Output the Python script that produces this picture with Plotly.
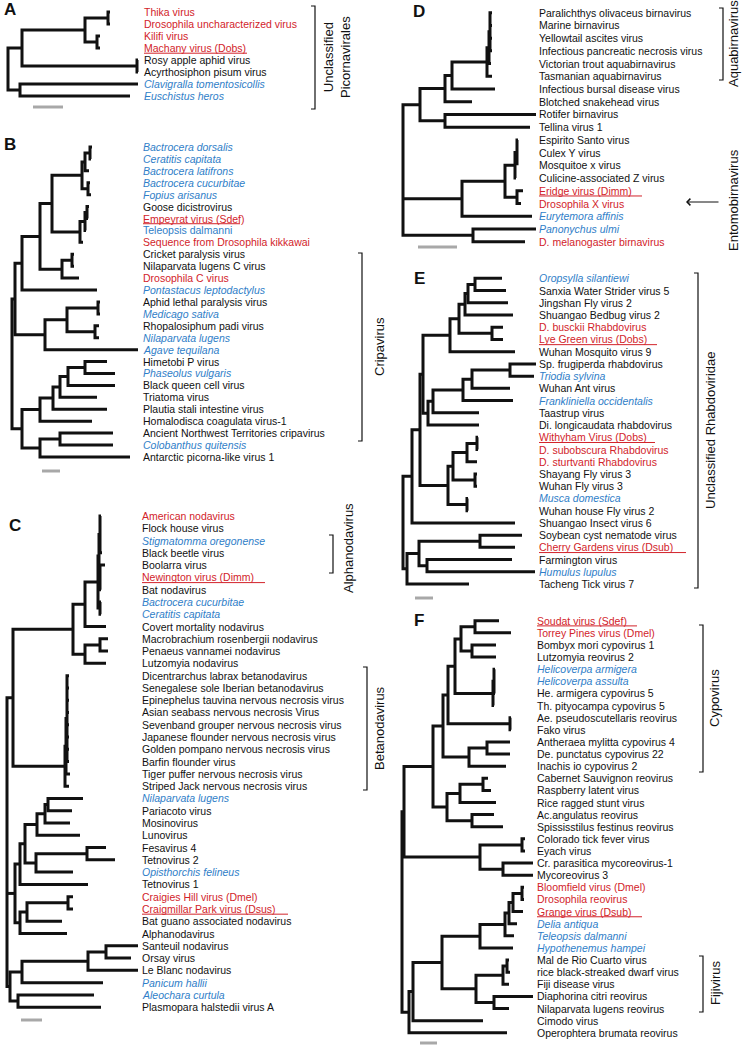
import plotly.graph_objects as go

W, H = 743, 1046
RED, BLUE, BLACK, GRAY = "#d2232a", "#2f7ec8", "#111111", "#a8a8a8"
FONT = "Arial, Liberation Sans, sans-serif"

# ---------------- DATA ----------------
# kinds: r = red, k = black, b = blue italic, B = blue upright, trailing 'u' = underlined
A_labels = ["Thika virus", "Drosophila uncharacterized virus", "Kilifi virus", "Machany virus (Dobs)",
            "Rosy apple aphid virus", "Acyrthosiphon pisum virus", "Clavigralla tomentosicollis", "Euschistus heros"]
A_kinds = ["r", "r", "r", "ru", "k", "k", "b", "b"]
# tree: internal node = [depth, child, ...]; leaf = (leaf index, tip depth)
A_tree = [0, [14, [77, [100, (0, 102), (1, 102)], [89, (2, 92), (3, 92)]], [129, (4, 130), (5, 130)]],
          [12, (6, 130), (7, 122)]]
A_scale = 30

B_labels = ["Bactrocera dorsalis", "Ceratitis capitata", "Bactrocera latifrons", "Bactrocera cucurbitae",
            "Fopius arisanus", "Goose dicistrovirus", "Empeyrat virus (Sdef)", "Teleopsis dalmanni",
            "Sequence from Drosophila kikkawai", "Cricket paralysis virus", "Nilaparvata lugens C virus",
            "Drosophila C virus", "Pontastacus leptodactylus", "Aphid lethal paralysis virus", "Medicago sativa",
            "Rhopalosiphum padi virus", "Nilaparvata lugens", "Agave tequilana", "Himetobi P virus",
            "Phaseolus vulgaris", "Black queen cell virus", "Triatoma virus", "Plautia stali intestine virus",
            "Homalodisca coagulata virus-1", "Ancient Northwest Territories cripavirus", "Colobanthus quitensis",
            "Antarctic picorna-like virus 1"]
B_kinds = ["b", "b", "b", "b", "b", "k", "ru", "B", "r", "k", "k", "r", "b", "k", "b", "k", "b", "b", "k",
           "b", "k", "k", "k", "k", "k", "b", "k"]
B_tree = [0,
          [3,
           [10,
            [28,
             [40,
              [70, [73, [78, (0, 80), (1, 79)], (2, 77)], [76, (3, 78), (4, 79)]],
              [68, [73, [75, (5, 77), (6, 76)], (7, 74)], (8, 71)]],
             [50, [60, (9, 62), (10, 62)], (11, 67)]],
            (12, 85)],
           [33, [55, [86, (13, 88), (14, 88)], [83, (15, 87), (16, 87)]], (17, 126)]],
          [10,
           [28, [41, [48, [56, [73, (18, 95), (19, 103)], (20, 103)], (21, 85)], (22, 95)], (23, 80)],
           [28, [48, (24, 101), (25, 101)], (26, 118)]]]
B_scale = 18

C_labels = ["American nodavirus", "Flock house virus", "Stigmatomma oregonense", "Black beetle virus",
            "Boolarra virus", "Newington virus (Dimm)", "Bat nodavirus", "Bactrocera cucurbitae",
            "Ceratitis capitata", "Covert mortality nodavirus", "Macrobrachium rosenbergii nodavirus",
            "Penaeus vannamei nodavirus", "Lutzomyia nodavirus", "Dicentrarchus labrax betanodavirus",
            "Senegalese sole Iberian betanodavirus", "Epinephelus tauvina nervous necrosis virus",
            "Asian seabass nervous necrosis Virus", "Sevenband grouper nervous necrosis virus",
            "Japanese flounder nervous necrosis virus", "Golden pompano nervous necrosis virus",
            "Barfin flounder virus", "Tiger puffer nervous necrosis virus", "Striped Jack nervous necrosis virus",
            "Nilaparvata lugens", "Pariacoto virus", "Mosinovirus", "Lunovirus", "Fesavirus 4", "Tetnovirus 2",
            "Opisthorchis felineus", "Tetnovirus 1", "Craigies Hill virus (Dmel)", "Craigmillar Park virus (Dsus)",
            "Bat guano associated nodavirus", "Alphanodavirus", "Santeuil nodavirus", "Orsay virus",
            "Le Blanc nodavirus", "Panicum hallii", "Aleochara curtula", "Plasmopara halstedii virus A"]
C_kinds = ["r", "k", "b", "k", "k", "ru", "k", "b", "b", "k", "k", "k", "k", "k", "k", "k", "k", "k", "k",
           "k", "k", "k", "k", "b", "k", "k", "k", "k", "k", "b", "k", "r", "ru", "k", "k", "k", "k", "k",
           "b", "b", "k"]
C_tree = [0,
          [6,
           [66,
            [78,
             [91,
              [92, [93, (0, 94), (1, 94), (2, 94), (3, 95)], [93, (4, 98), (5, 94), (6, 94)]],
              [93, (7, 94), (8, 94)]],
             (9, 99)],
            [78, [93, (10, 101), (11, 101)], (12, 99)]],
           [58, [59, [60, (13, 62), (14, 62), (15, 62), (16, 62), (17, 62), (18, 62), (19, 62), (20, 62)],
                 (21, 63)], (22, 62)]],
          [8,
           [13,
            [18,
             [30, [38, [41, (23, 76), (24, 65)], (25, 63)], (26, 73)],
             [29, [80, (27, 99), (28, 108)], (29, 66)]],
            (30, 81)],
           [13, [20, [61, (31, 66), (32, 66)], (33, 55)], (34, 60)]],
          [3,
           [15, [81, [99, (35, 131), (36, 124)], (37, 131)], (38, 96)],
           [11, (39, 87), (40, 94)]]]
C_scale = 21

D_labels = ["Paralichthys olivaceus birnavirus", "Marine birnavirus", "Yellowtail ascites virus",
            "Infectious pancreatic necrosis virus", "Victorian trout aquabirnavirus", "Tasmanian aquabirnavirus",
            "Infectious bursal disease virus", "Blotched snakehead virus", "Rotifer birnavirus", "Tellina virus 1",
            "Espirito Santo virus", "Culex Y virus", "Mosquitoe x virus", "Culicine-associated Z virus",
            "Eridge virus (Dimm)", "Drosophila X virus", "Eurytemora affinis", "Panonychus ulmi",
            "D. melanogaster birnavirus"]
D_kinds = ["k"] * 14 + ["ru", "r", "b", "b", "r"]
D_tree = [0,
          [17,
           [42, [49, [84, [86, [87, (0, 89), (1, 89), (2, 89), (3, 89)], (4, 88)], (5, 89)], (6, 92)], (7, 69)],
           [42, (8, 133), (9, 127)]],
          [59,
           [102, [112, [114, (10, 115), (11, 115), (12, 114)], (13, 113)], [114, (14, 120), (15, 118)]],
           (16, 129)],
          [70, (17, 133), (18, 122)]]
D_scale = 39

E_labels = ["Oropsylla silantiewi", "Sanxia Water Strider virus 5", "Jingshan Fly virus 2",
            "Shuangao Bedbug virus 2", "D. busckii Rhabdovirus", "Lye Green virus (Dobs)", "Wuhan Mosquito virus 9",
            "Sp. frugiperda rhabdovirus", "Triodia sylvina", "Wuhan Ant virus", "Frankliniella occidentalis",
            "Taastrup virus", "Di. longicaudata rhabdovirus", "Withyham Virus (Dobs)", "D. subobscura Rhabdovirus",
            "D. sturtvanti Rhabdovirus", "Shayang Fly virus 3", "Wuhan Fly virus 3", "Musca domestica",
            "Wuhan house Fly virus 2", "Shuangao Insect virus 6", "Soybean cyst nematode virus",
            "Cherry Gardens virus (Dsub)", "Farmington virus", "Humulus lupulus", "Tacheng Tick virus 7"]
E_kinds = ["b", "k", "k", "k", "r", "ru", "k", "k", "b", "k", "b", "k", "k", "ru", "r", "r", "k", "k", "b",
           "k", "k", "k", "ru", "k", "b", "k"]
E_tree = [0,
          [9,
           [17,
            [20,
             [47, [56, [62, [65, [72, (0, 99), (1, 103)], (2, 105)], (3, 110)], [89, (4, 100), (5, 100)]],
              (6, 112)],
             [25, [30, [60, [69, [107, (7, 133), (8, 131)], (9, 107)], (10, 110)], (11, 76)], (12, 76)]],
            [45, [50, [64, [74, (13, 75), (14, 75)], (15, 74)], [72, (16, 74), (17, 74)]],
             [64, (18, 65), (19, 65)]]],
           (20, 112)],
          [4, [16, [77, (21, 119), (22, 112)], [24, (23, 109), (24, 132)]], (25, 66)]]
E_scale = 18

F_labels = ["Soudat virus (Sdef)", "Torrey Pines virus (Dmel)", "Bombyx mori cypovirus 1", "Lutzomyia reovirus 2",
            "Helicoverpa armigera", "Helicoverpa assulta", "He. armigera cypovirus 5", "Th. pityocampa cypovirus 5",
            "Ae. pseudoscutellaris reovirus", "Fako virus", "Antheraea mylitta cypovirus 4",
            "De. punctatus cypovirus 22", "Inachis io cypovirus 2", "Cabernet Sauvignon reovirus",
            "Raspberry latent virus", "Rice ragged stunt virus", "Ac.angulatus reovirus",
            "Spississtilus festinus reovirus", "Colorado tick fever virus", "Eyach virus",
            "Cr. parasitica mycoreovirus-1", "Mycoreovirus 3", "Bloomfield virus (Dmel)", "Drosophila reovirus",
            "Grange virus (Dsub)", "Delia antiqua", "Teleopsis dalmanni", "Hypothenemus hampei",
            "Mal de Rio Cuarto virus", "rice black-streaked dwarf virus", "Fiji disease virus",
            "Diaphorina citri reovirus", "Nilaparvata lugens reovirus", "Cimodo virus", "Operophtera brumata reovirus"]
F_kinds = ["ru", "r", "k", "k", "b", "b"] + ["k"] * 16 + ["r", "r", "ru", "b", "b", "b"] + ["k"] * 7
F_tree = [0,
          [2,
           [31,
            [41,
             [46,
              [53, [59, [73, (0, 97), (1, 109)], [70, (2, 94), (3, 94)]],
               [91, [92, (4, 93), (5, 93), (6, 93)], (7, 92)]],
              [108, (8, 109), (9, 109)]],
             [67, [85, (10, 108), (11, 108)], (12, 104)]],
            [45, [58, [81, (13, 86), (14, 89)], (15, 94)], [70, (16, 92), (17, 101)]]],
           [78, [120, (18, 123), (19, 123)], [101, (20, 131), (21, 131)]]],
          [7,
           [11,
            [40,
             [78, [103, [107, [111, [120, (22, 122), (23, 122)], (24, 121)], (25, 115)], (26, 112)], (27, 111)],
             [74, [101, [105, (28, 107), (29, 108)], (30, 107)], [92, (31, 131), (32, 107)]]],
            (33, 81)],
           (34, 105)]]
F_scale = 17

# ---------------- LAYOUT (pixel placement) ----------------
PANELS = [
    dict(L="A", labels=A_labels, kinds=A_kinds, tree=A_tree, scale=A_scale,
         box=(0, 372, 0, 118), root=8, lab=144, y0=12, s=12.0, sb0=25, sby=107, letter=(2, 9)),
    dict(L="B", labels=B_labels, kinds=B_kinds, tree=B_tree, scale=B_scale,
         box=(0, 372, 128, 480), root=12, lab=143, y0=147, s=11.92, sb0=30, sby=471, letter=(2, 144)),
    dict(L="C", labels=C_labels, kinds=C_kinds, tree=C_tree, scale=C_scale,
         box=(0, 372, 505, 1040), root=7, lab=142, y0=516, s=12.28, sb0=14, sby=1020, letter=(7, 525)),
    dict(L="D", labels=D_labels, kinds=D_kinds, tree=D_tree, scale=D_scale,
         box=(372, 743, 0, 255), root=403, lab=539, y0=12.7, s=12.72, sb0=15, sby=247, letter=(411, 11)),
    dict(L="E", labels=E_labels, kinds=E_kinds, tree=E_tree, scale=E_scale,
         box=(372, 743, 262, 605), root=403, lab=539, y0=278.3, s=12.23, sb0=12, sby=598, letter=(412, 278)),
    dict(L="F", labels=F_labels, kinds=F_kinds, tree=F_tree, scale=F_scale,
         box=(372, 743, 608, 1046), root=402, lab=537, y0=620.7, s=12.12, sb0=18, sby=1043, letter=(412, 621)),
]
UNDERLINE_END = {("A", 3): 247, ("B", 6): 240, ("C", 5): 265, ("C", 32): 288, ("D", 14): 642,
                 ("E", 5): 657, ("E", 13): 655, ("E", 22): 686, ("F", 0): 637, ("F", 24): 642}


def px(x):
    return x / W


def py(y):
    return 1 - y / H


def build(node, xs, ys):
    if isinstance(node, tuple):
        idx, d = node
        return d, float(idx)
    depth = node[0]
    kids = [build(c, xs, ys) for c in node[1:]]
    yt, yb = kids[0][1], kids[-1][1]
    xs += [kids[0][0], depth, depth, kids[-1][0], None]
    ys += [yt, yt, yb, yb, None]
    for kx, ky in kids[1:-1]:
        xs += [depth, kx, None]
        ys += [ky, ky, None]
    return depth, (yt + yb) / 2


fig = go.Figure()
annotations, shapes = [], []
lay = {}

for k, p in enumerate(PANELS, 1):
    xr = "x" if k == 1 else f"x{k}"
    yr = "y" if k == 1 else f"y{k}"
    xa = "xaxis" if k == 1 else f"xaxis{k}"
    ya = "yaxis" if k == 1 else f"yaxis{k}"
    bx0, bx1, by0, by1 = p["box"]
    root, y0, s = p["root"], p["y0"], p["s"]
    lay[xa] = dict(domain=[px(bx0), px(bx1)], range=[bx0 - root, bx1 - root], visible=False,
                   anchor=yr, fixedrange=True)
    lay[ya] = dict(domain=[py(by1), py(by0)], range=[(by1 - y0) / s, (by0 - y0) / s], visible=False,
                   anchor=xr, fixedrange=True)

    xs, ys = [], []
    build(p["tree"], xs, ys)
    fig.add_trace(go.Scatter(x=xs, y=ys, mode="lines", xaxis=xr, yaxis=yr,
                             line=dict(color=BLACK, width=3), hoverinfo="skip", showlegend=False))
    sy = (p["sby"] - y0) / s
    fig.add_trace(go.Scatter(x=[p["sb0"], p["sb0"] + p["scale"]], y=[sy, sy], mode="lines", xaxis=xr, yaxis=yr,
                             line=dict(color=GRAY, width=3), hoverinfo="skip", showlegend=False))

    labx = p["lab"] - root - 2
    for i, (t, kind) in enumerate(zip(p["labels"], p["kinds"])):
        c = kind[0]
        color = RED if c == "r" else (BLUE if c in "bB" else BLACK)
        txt = f"<i>{t}</i>" if c == "b" else t
        annotations.append(dict(x=labx, y=i, xref=xr, yref=yr, text=txt, showarrow=False,
                                xanchor="left", yanchor="middle",
                                font=dict(family=FONT, size=10.5, color=color)))
        if kind.endswith("u"):
            uy = i + 5.2 / s
            shapes.append(dict(type="line", xref=xr, yref=yr, x0=p["lab"] - root,
                               x1=UNDERLINE_END[(p["L"], i)] - root,
                               y0=uy, y1=uy, line=dict(color=color, width=1)))
    lx, ly = p["letter"]
    annotations.append(dict(x=px(lx), y=py(ly), xref="paper", yref="paper", text=f"<b>{p['L']}</b>",
                            showarrow=False, xanchor="left", yanchor="middle",
                            font=dict(family=FONT, size=17, color=BLACK)))

# clade brackets: (x, y_top, y_bottom, label, label x, label y)
BRACKETS = [
    (315, 6, 109, "Unclassified<br>Picornavirales", 337, 57),
    (362, 253, 441, "Cripavirus", 380, 347),
    (333, 535, 573, "Alphanodavirus", 348, 548),
    (367, 667, 790, "Betanodavirus", 379, 728),
    (723, 8, 80, "Aquabirnavirus", 734, 44),
    (698, 273, 588, "Unclassified Rhabdoviridae", 710, 430),
    (703, 625, 772, "Cypovirus", 714, 698),
    (703, 956, 1012, "Fijivirus", 715, 983),
]
for bx, t0, t1, txt, lxp, lyp in BRACKETS:
    shapes.append(dict(type="path", xref="paper", yref="paper",
                       path=f"M{px(bx - 4)},{py(t0)} L{px(bx)},{py(t0)} L{px(bx)},{py(t1)} L{px(bx - 4)},{py(t1)}",
                       line=dict(color=BLACK, width=1.2)))
    annotations.append(dict(x=px(lxp), y=py(lyp), xref="paper", yref="paper", text=txt, showarrow=False,
                            textangle=-90, xanchor="center", yanchor="middle",
                            font=dict(family=FONT, size=13, color=BLACK)))

# Entomobirnavirus arrow + label
annotations.append(dict(x=px(686), y=py(202), xref="paper", yref="paper", text="", showarrow=True,
                        ax=34, ay=0, arrowhead=4, arrowsize=1.3, arrowwidth=1, arrowcolor=BLACK))
annotations.append(dict(x=px(734), y=py(200), xref="paper", yref="paper", text="Entomobirnavirus",
                        showarrow=False, textangle=-90, xanchor="center", yanchor="middle",
                        font=dict(family=FONT, size=13, color=BLACK)))

fig.update_layout(width=W, height=H, margin=dict(l=0, r=0, t=0, b=0), paper_bgcolor="white",
                  plot_bgcolor="rgba(0,0,0,0)", annotations=annotations, shapes=shapes, **lay)
fig.write_html("out.html", config={"displayModeBar": False, "staticPlot": True},
               post_script="document.body.style.margin='0px';document.body.style.overflow='hidden';")
